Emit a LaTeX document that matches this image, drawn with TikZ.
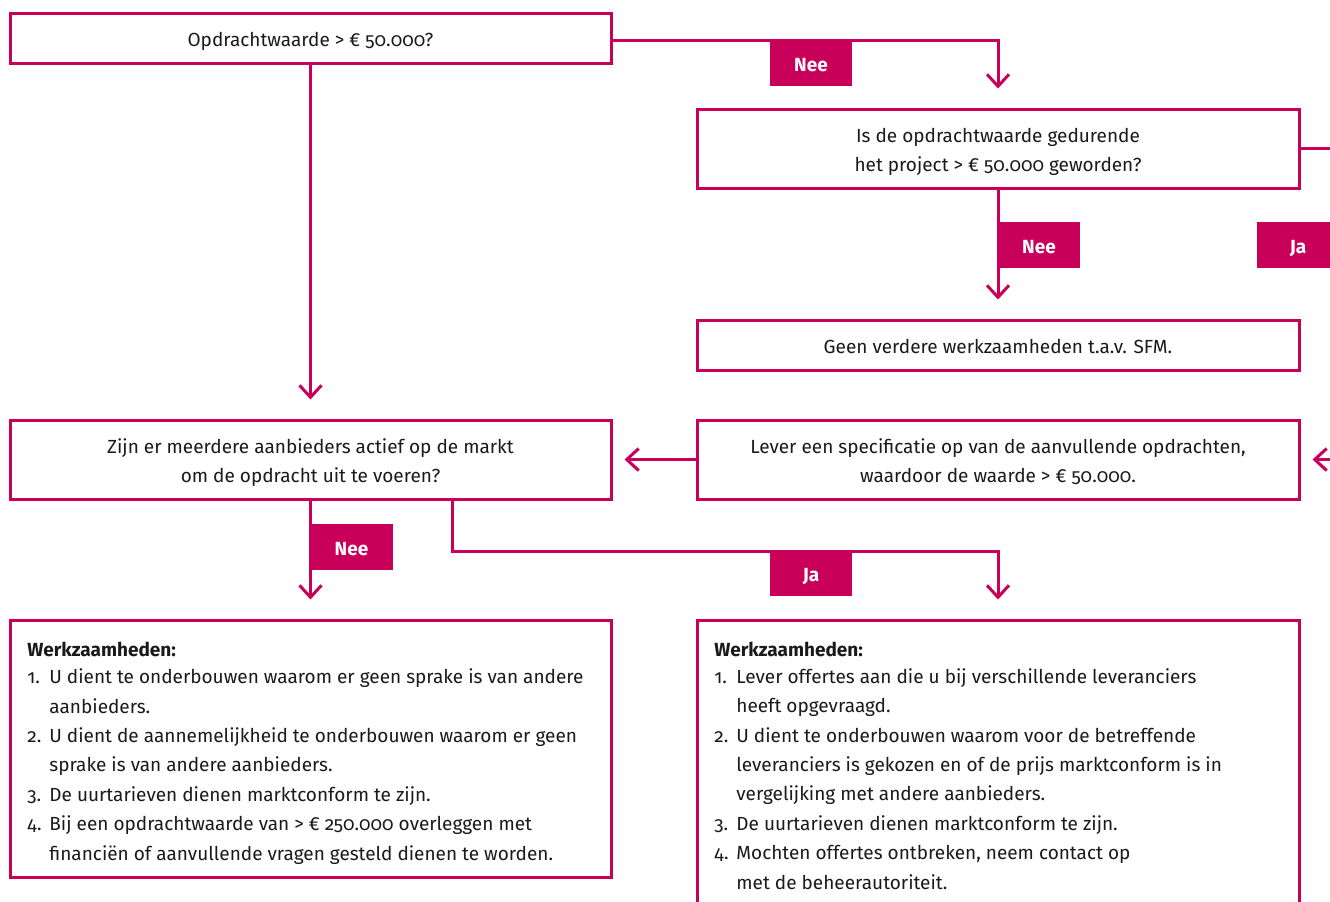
\documentclass[tikz,border=0pt]{standalone}
\usepackage{fontspec}
\setmainfont{Fira Sans}[Numbers=OldStyle]
\usetikzlibrary{arrows.meta}
\definecolor{rk}{HTML}{C8005A}
\definecolor{txt}{HTML}{1A1A1A}
\newcommand\nr[1]{\makebox[11pt][l]{#1}}
\newcommand\fs{\fontsize{9.5}{14.5}\selectfont}
\tikzset{
  box/.style={draw=rk, line width=1.5pt, inner sep=0pt, align=center, text=txt, font=\fs},
  boxone/.style={box, text height=8.5pt, text depth=0pt},
  boxtwo/.style={box, text height=23.2pt, text depth=0pt},
  lbl/.style={fill=rk, text=white, font=\fs\bfseries, minimum width=41pt, minimum height=23pt, inner sep=0pt, text height=8.6pt, text depth=0pt},
  arr/.style={draw=rk, line width=1.5pt, -{Straight Barb[length=6pt,width=11pt]}},
  listtxt/.style={anchor=base west, align=left, inner sep=0pt, text=txt, font=\fontsize{9.5}{14.7}\selectfont},
}
\begin{document}
\begin{tikzpicture}[x=0.5pt,y=-0.5pt]
\useasboundingbox (0,0) rectangle (1330,901);
\fill[white] (0,0) rectangle (1330,901);
\clip (0,0) rectangle (1330,901);

\node[boxone, minimum width=300.5pt, minimum height=25pt] (A) at (310.5,38) {Opdrachtwaarde > € 50.000?};
\node[boxtwo, minimum width=301pt, minimum height=39.5pt] (B) at (998,148.5) {Is de opdrachtwaarde gedurende\\het project > € 50.000 geworden?};
\node[boxone, minimum width=301pt, minimum height=25pt] (C) at (998,345) {Geen verdere werkzaamheden t.a.v. SFM.};
\node[boxtwo, minimum width=300.5pt, minimum height=39.5pt] (D) at (310.5,459.5) {Zijn er meerdere aanbieders actief op de markt\\om de opdracht uit te voeren?};
\node[boxtwo, minimum width=301pt, minimum height=39.5pt] (E) at (998,459.5) {Lever een specificatie op van de aanvullende opdrachten,\\waardoor de waarde > € 50.000.};
\node[box, minimum width=300.5pt, minimum height=128.5pt] (F) at (310.5,748.5) {};
\node[box, minimum width=301pt, minimum height=150pt] (G) at (998,770) {};

\node[listtxt] (Ft) at (27,860) {\textbf{Werkzaamheden:}\\[-1.2pt]
\nr{1.}U dient te onderbouwen waarom er geen sprake is van andere\\
\nr{}aanbieders.\\
\nr{2.}U dient de aannemelijkheid te onderbouwen waarom er geen\\
\nr{}sprake is van andere aanbieders.\\
\nr{3.}De uurtarieven dienen marktconform te zijn.\\
\nr{4.}Bij een opdrachtwaarde van > € 250.000 overleggen met\\
\nr{}financiën of aanvullende vragen gesteld dienen te worden.};

\node[listtxt] (Gt) at (714,889) {\textbf{Werkzaamheden:}\\[-1.2pt]
\nr{1.}Lever offertes aan die u bij verschillende leveranciers\\
\nr{}heeft opgevraagd.\\
\nr{2.}U dient te onderbouwen waarom voor de betreffende\\
\nr{}leveranciers is gekozen en of de prijs marktconform is in\\
\nr{}vergelijking met andere aanbieders.\\
\nr{3.}De uurtarieven dienen marktconform te zijn.\\
\nr{4.}Mochten offertes ontbreken, neem contact op\\
\nr{}met de beheerautoriteit.};

\coordinate (Rt) at (1339,148.5);
\coordinate (Rb) at (1339,459.5);

\draw[arr, shorten >=9.5pt] ([yshift=-1pt]A.east) -| (B.north);
\draw[arr, shorten >=9.5pt] (A.south) -- (D.north);
\draw[arr, shorten >=9.5pt] (B.south) -- (C.north);
\draw[arr, shorten >=6pt] (E.west) -- (D.east);
\draw[arr, shorten >=9.5pt] (D.south) -- (F.north);
\draw[arr, shorten >=9.5pt] ([xshift=70.75pt]D.south) -- ++(0,51) -| (G.north);
\draw[arr, shorten >=6pt] (B.east) -- (Rt) -- (Rb) -- (E.east);

\node[lbl] (L1) at (811,62.5) {Nee};
\node[lbl] (L2) at (1039,245) {Nee};
\node[lbl] (L3) at (1298,245) {Ja};
\node[lbl] (L4) at (351.5,546.5) {Nee};
\node[lbl] (L5) at (811,573) {Ja};
\end{tikzpicture}
\end{document}
